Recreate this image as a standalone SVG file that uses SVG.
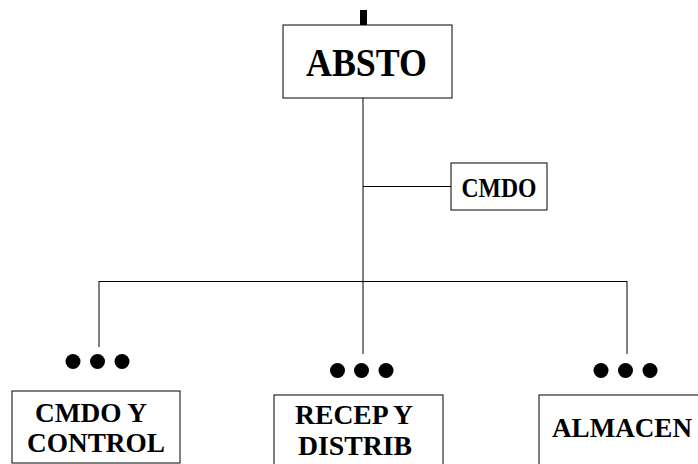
<svg xmlns="http://www.w3.org/2000/svg" width="698" height="464" viewBox="0 0 698 464">
<style>
.box{fill:#fff;stroke:#000;stroke-width:1}
.ln{stroke:#000;stroke-width:1;fill:none}
.t{font-family:"Liberation Serif","Times New Roman",serif;font-weight:bold;fill:#000;text-anchor:middle}
.s{font-size:27px}
.big{font-size:39px}
</style>
<rect width="698" height="464" fill="#fff"/>
<g id="connectors">
<rect x="360" y="10" width="7" height="15" fill="#000"/>
<line class="ln" x1="363" y1="98" x2="363" y2="354"/>
<line class="ln" x1="363" y1="186.5" x2="451" y2="186.5"/>
<line class="ln" x1="99" y1="281.5" x2="627" y2="281.5"/>
<line class="ln" x1="99" y1="281" x2="99" y2="347"/>
<line class="ln" x1="627" y1="281" x2="627" y2="354"/>
</g>
<g id="dots" fill="#000">
<circle cx="73" cy="361.5" r="7.5"/><circle cx="97.5" cy="361.5" r="7.5"/><circle cx="122" cy="361.5" r="7.5"/>
<circle cx="337.5" cy="370.5" r="7.5"/><circle cx="361.5" cy="370.5" r="7.5"/><circle cx="386" cy="370.5" r="7.5"/>
<circle cx="601" cy="370.5" r="7.5"/><circle cx="625.5" cy="370.5" r="7.5"/><circle cx="650" cy="370.5" r="7.5"/>
</g>
<g id="absto">
<rect class="box" x="283" y="25" width="169" height="73"/>
<text class="t big" x="366.5" y="76" textLength="121" lengthAdjust="spacingAndGlyphs">ABSTO</text>
</g>
<g id="cmdo">
<rect class="box" x="451" y="163" width="96" height="47"/>
<text class="t s" x="499" y="197" textLength="75" lengthAdjust="spacingAndGlyphs">CMDO</text>
</g>
<g id="cmdo-control">
<rect class="box" x="12" y="391" width="168" height="72"/>
<text class="t s" x="91" y="422" textLength="112" lengthAdjust="spacingAndGlyphs">CMDO Y</text>
<text class="t s" x="96" y="452" textLength="138" lengthAdjust="spacingAndGlyphs">CONTROL</text>
</g>
<g id="recep-distrib">
<rect class="box" x="274" y="395" width="169" height="80"/>
<text class="t s" x="354" y="424" textLength="118" lengthAdjust="spacingAndGlyphs">RECEP Y</text>
<text class="t s" x="355" y="455" textLength="114" lengthAdjust="spacingAndGlyphs">DISTRIB</text>
</g>
<g id="almacen">
<rect class="box" x="539" y="395" width="170" height="80"/>
<text class="t s" x="622" y="437" textLength="140" lengthAdjust="spacingAndGlyphs">ALMACEN</text>
</g>
</svg>
